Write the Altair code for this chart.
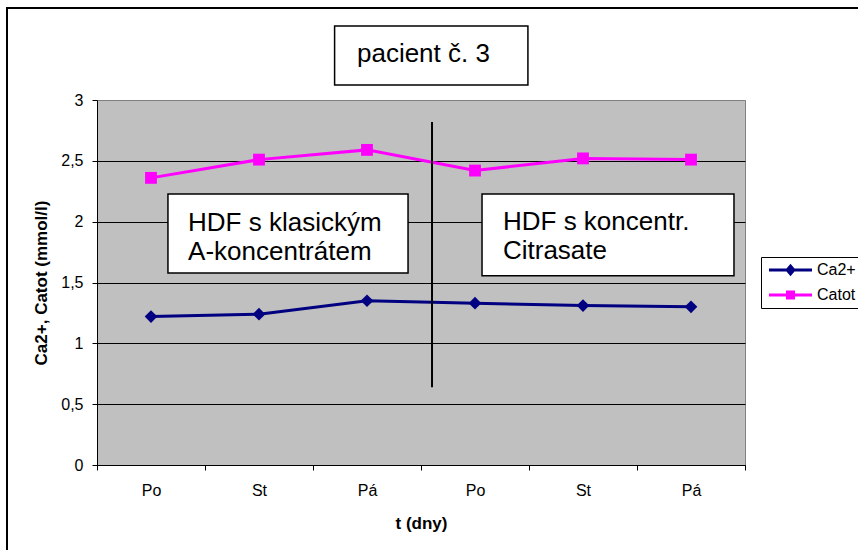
import altair as alt
import pandas as pd

# ---- data ----
DAYS = ["Po", "St", "Pá", "Po", "St", "Pá"]
SERIES = ["Ca2+", "Catot"]
CA2 = [1.22, 1.24, 1.35, 1.33, 1.31, 1.30]
CATOT = [2.36, 2.51, 2.59, 2.42, 2.52, 2.51]
Y_TICKS = [0, 0.5, 1, 1.5, 2, 2.5, 3]
X_TITLE = "t (dny)"
Y_TITLE = "Ca2+,  Catot (mmol/l)"
TITLE_TEXT = "pacient č. 3"
BOX_TEXTS = ["HDF s klasickým\nA-koncentrátem", "HDF s koncentr.\nCitrasate"]

# ---- styles ----
COLORS = ["#000080", "#FF00FF"]
FONT = "Liberation Sans"
W, H = 648, 365
BAND = W / len(DAYS)

# legend symbols: line + marker (unit square coordinates, scaled by symbol size)
LEG_PATHS = [
    "M-1,-0.3H7.6V0.3H-1Z M3.3,-1.25L4.35,0L3.3,1.25L2.25,0Z",
    "M-1,-0.3H7.6V0.3H-1Z M2.4,-0.9H4.2V0.9H2.4Z",
]

idx = list(range(len(DAYS)))
df = pd.DataFrame({
    "i": idx * 2,
    "series": [SERIES[0]] * len(CA2) + [SERIES[1]] * len(CATOT),
    "value": CA2 + CATOT,
})

# annotation geometry in data units (index / mmol/l)
boxes = pd.DataFrame({
    "x": [1.70, 0.157, 3.065],
    "x2": [3.49, 2.38, 5.398],
    "y": [3.608, 2.227, 2.227],
    "y2": [3.123, 1.578, 1.556],
})
texts = pd.DataFrame({
    "x": [1.907, 0.343, 3.259],
    "y": [3.312, 1.923, 1.931],
    "t": [TITLE_TEXT] + BOX_TEXTS,
})
divider = pd.DataFrame({"x": [2.602], "y": [2.82], "y2": [0.64]})

x_scale = alt.Scale(domain=[-0.5, len(DAYS) - 0.5], nice=False, zero=False)
y_scale = alt.Scale(domain=[0, 3], nice=False, zero=False)

label_list = "[" + ",".join("'" + d + "'" for d in DAYS) + "]"
x_axis = alt.Axis(
    values=[i - 0.5 for i in range(len(DAYS) + 1)],
    labelExpr=label_list + "[round(datum.value + 0.5)] || ''",
    labelOffset=BAND / 2,
    labelOverlap=False,
    labelFlush=False,
    labelBound=False,
    labelPadding=12,
    labelFontSize=16,
    tickSize=5,
    grid=False,
    titleFontSize=17,
    titleFontWeight="bold",
    titleBaseline="alphabetic",
    titleY=63,
)
y_axis = alt.Axis(
    values=Y_TICKS,
    labelExpr="replace('' + datum.value, '.', ',')",
    labelFontSize=16,
    labelPadding=9,
    tickSize=5,
    grid=True,
    gridColor={"condition": {"test": "datum.value >= 3", "value": "#808080"}, "value": "#000000"},
    gridWidth=1,
    titleFontSize=17,
    titleFontWeight="bold",
    titleAngle=270,
    titleBaseline="alphabetic",
    titleAlign="center",
    titleX=-51,
    titleY=H / 2,
)


def X(field):
    return alt.X(field + ":Q", scale=x_scale, axis=x_axis, title=X_TITLE)


def Y(field):
    return alt.Y(field + ":Q", scale=y_scale, axis=y_axis, title=Y_TITLE)


layers = []

# frame around the whole chart
frame = alt.Chart(pd.DataFrame({"a": [0]})).mark_rect(
    fill=None, stroke="black", strokeWidth=2, clip=False
).encode(
    x=alt.value(-90), x2=alt.value(W + 200), y=alt.value(-92), y2=alt.value(H + 200)
)
layers.append(frame)

# series lines and markers
shapes = ["diamond", "square"]
sizes = [160, 140]
for s, c, sh, sz in zip(SERIES, COLORS, shapes, sizes):
    base = alt.Chart(df).transform_filter(alt.datum.series == s)
    layers.append(base.mark_line(color=c, strokeWidth=3).encode(x=X("i"), y=Y("value")))
    layers.append(
        base.mark_point(shape=sh, filled=True, color=c, size=sz, opacity=1).encode(
            x=X("i"), y=Y("value")
        )
    )

# divider line
layers.append(
    alt.Chart(divider).mark_rule(color="black", strokeWidth=2).encode(
        x=X("x"), y=Y("y"), y2=alt.Y2("y2")
    )
)

# boxes with text
layers.append(
    alt.Chart(boxes).mark_rect(fill="white", stroke="black", strokeWidth=1.5, clip=False).encode(
        x=X("x"), x2=alt.X2("x2"), y=Y("y"), y2=alt.Y2("y2")
    )
)
layers.append(
    alt.Chart(texts).mark_text(
        align="left", baseline="alphabetic", fontSize=26, lineHeight=29,
        lineBreak="\n", font=FONT, color="black", clip=False
    ).encode(x=X("x"), y=Y("y"), text="t:N")
)

# legend-only layer
leg = alt.Legend(
    title=None,
    orient="none",
    legendX=664,
    legendY=157,
    direction="vertical",
    fillColor="white",
    strokeColor="black",
    padding=5,
    labelFontSize=16,
    labelFont=FONT,
    labelOffset=35,
    rowPadding=9,
    symbolSize=100,
    symbolStrokeWidth=0,
)
layers.append(
    alt.Chart(df).transform_filter("false").mark_point(filled=True, size=100, opacity=1).encode(
        x=X("i"),
        y=Y("value"),
        color=alt.Color("series:N", scale=alt.Scale(domain=SERIES, range=COLORS), legend=leg),
        shape=alt.Shape("series:N", scale=alt.Scale(domain=SERIES, range=LEG_PATHS), legend=leg),
    )
)

chart = alt.layer(*layers).properties(
    width=W,
    height=H,
    autosize=alt.AutoSizeParams(type="none"),
    padding={"left": 97, "top": 100, "right": 858 - 97 - W, "bottom": 550 - 100 - H},
    background="white",
).configure_view(
    fill="#C0C0C0", stroke="#808080", strokeWidth=1
).configure_axis(
    domainColor="black", tickColor="black", labelColor="black", titleColor="black",
    labelFont=FONT, titleFont=FONT, domainWidth=1, tickWidth=1,
).configure_legend(
    labelColor="black"
)

chart.save("out.html", embed_options={"renderer": "svg", "actions": False})
